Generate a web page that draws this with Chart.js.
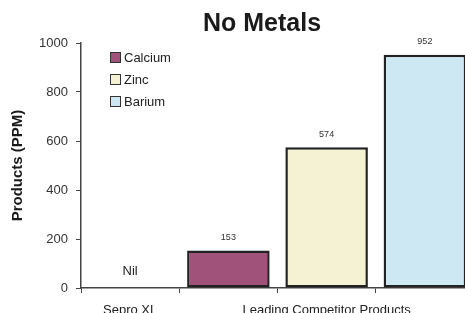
<!DOCTYPE html>
<html>
<head>
<meta charset="utf-8">
<script src="https://cdn.jsdelivr.net/npm/chart.js@4/dist/chart.umd.min.js"></script>
<style>
  html, body { margin: 0; padding: 0; background: #fff; }
  #wrap { width: 465px; height: 313px; overflow: hidden; position: relative; }
  #chart { display: block; }
</style>
</head>
<body>
<div id="wrap"><canvas id="chart" width="480" height="330"></canvas></div>
<script>
// Dados
const categorias = ["Sepro XL", "Calcium", "Zinc", "Barium"];
const rotulosEixoX = ["Sepro XL", "", "Leading Competitor Products", ""];
const metais = ["Calcium", "Zinc", "Barium"];
const valoresCalcium = [null, 153, null, null];
const valoresZinc = [null, null, 574, null];
const valoresBarium = [null, null, null, 952];
const coresMetais = ["#a0527a", "#f5f2d4", "#cde8f3"];
const ticksY = [0, 200, 400, 600, 800, 1000];
const textoSepro = "Nil";
const titulo = "No Metals";

const fonte = "'Liberation Sans', Arial, sans-serif";

// Título, legenda e rótulos desenhados por plugin
const extras = {
    id: 'extras',
    afterDraw(chart) {
        const ctx = chart.ctx;
        const x = chart.scales.x, y = chart.scales.y;
        ctx.save();

        // título
        ctx.fillStyle = '#1a1a1a';
        ctx.font = "bold 25px " + fonte;
        ctx.textAlign = 'center';
        ctx.textBaseline = 'middle';
        ctx.fillText(titulo, 262, 24);

        // valores acima das barras
        ctx.font = "9px " + fonte;
        ctx.fillStyle = '#333';
        chart.data.datasets.forEach((ds, i) => {
            const meta = chart.getDatasetMeta(i);
            ds.data.forEach((v, j) => {
                if (v == null) return;
                const bar = meta.data[j];
                ctx.fillText(String(v), bar.x, bar.y - 13);
            });
        });

        // Nil
        ctx.font = "13px " + fonte;
        ctx.fillStyle = '#222';
        ctx.fillText(textoSepro, x.getPixelForValue(0), y.getPixelForValue(0) - 17);

        // legenda
        ctx.textAlign = 'left';
        chart.data.datasets.forEach((ds, i) => {
            const cy = 57 + i * 22;
            ctx.fillStyle = ds.backgroundColor;
            ctx.fillRect(110, cy - 5, 11, 11);
            ctx.strokeStyle = '#333';
            ctx.lineWidth = 1;
            ctx.strokeRect(110.5, cy - 4.5, 10, 10);
            ctx.fillStyle = '#222';
            ctx.font = "13px " + fonte;
            ctx.fillText(ds.label, 124, cy + 1);
        });
        ctx.restore();
    }
};

function dataset(label, data, cor) {
    return {
        label: label,
        data: data,
        backgroundColor: cor,
        borderColor: '#222',
        borderWidth: 2.5,
        borderSkipped: false,
        barPercentage: 0.84,
        categoryPercentage: 1.0,
        grouped: false
    };
}

new Chart(document.getElementById('chart'), {
    type: 'bar',
    data: {
        labels: categorias,
        datasets: [
            dataset(metais[0], valoresCalcium, coresMetais[0]),
            dataset(metais[1], valoresZinc, coresMetais[1]),
            dataset(metais[2], valoresBarium, coresMetais[2])
        ]
    },
    options: {
        responsive: false,
        animation: false,
        layout: { padding: { top: 43, right: 6, left: 0, bottom: 0 } },
        plugins: {
            legend: { display: false },
            title: { display: false },
            tooltip: { enabled: false }
        },
        scales: {
            x: {
                grid: { drawOnChartArea: false, drawTicks: true, tickLength: 5, color: '#444', offset: true },
                border: { color: '#444', width: 1.5 },
                ticks: {
                    color: '#222',
                    font: { family: fonte, size: 13 },
                    padding: 10,
                    maxRotation: 0,
                    autoSkip: false,
                    callback: (v, i) => rotulosEixoX[i]
                },
                afterFit(scale) { scale.height = 42; }
            },
            y: {
                min: 0,
                max: 1000,
                afterBuildTicks(scale) { scale.ticks = ticksY.map(v => ({ value: v })); },
                grid: { drawOnChartArea: false, drawTicks: true, tickLength: 5, color: '#444' },
                border: { color: '#444', width: 1.5 },
                ticks: {
                    color: '#333',
                    font: { family: fonte, size: 13 },
                    padding: 8,
                    callback: v => String(v)
                },
                title: {
                    display: true,
                    text: 'Products (PPM)',
                    color: '#1a1a1a',
                    font: { family: fonte, size: 15, weight: 'bold' },
                    padding: { top: 9, bottom: 0 }
                },
                afterFit(scale) { scale.width = 81; }
            }
        }
    },
    plugins: [extras]
});
</script>
</body>
</html>
